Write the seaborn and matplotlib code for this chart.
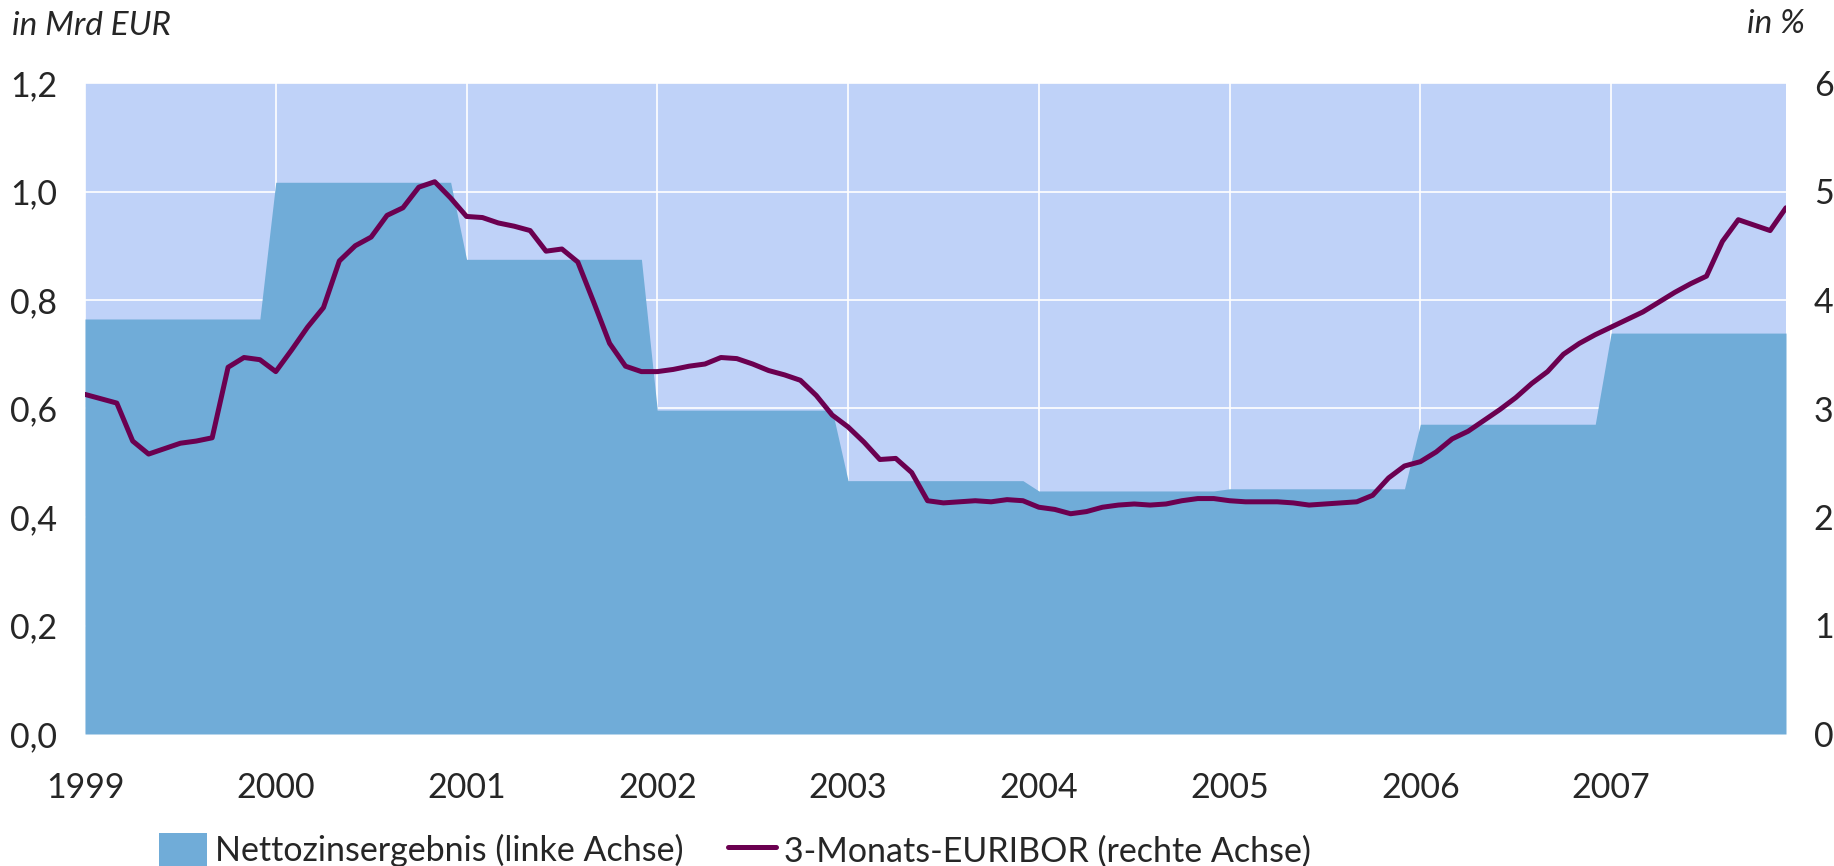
import numpy as np
import pandas as pd
import matplotlib
matplotlib.use("Agg")
import matplotlib.pyplot as plt
import seaborn as sns
from matplotlib.patches import Patch
from matplotlib.lines import Line2D
from matplotlib.ticker import FuncFormatter

# Annual net interest income (bn EUR), held constant over each year's months
years = [1999, 2000, 2001, 2002, 2003, 2004, 2005, 2006, 2007]
net_interest = [0.765, 1.017, 0.875, 0.597, 0.467, 0.448, 0.452, 0.571, 0.739]

# 3-month EURIBOR, monthly averages in % (Jan 1999 - Dec 2007)
euribor = [
    3.13, 3.09, 3.05, 2.70, 2.58, 2.63, 2.68, 2.70, 2.73, 3.38, 3.47, 3.45,
    3.34, 3.54, 3.75, 3.93, 4.36, 4.50, 4.58, 4.78, 4.85, 5.04, 5.09, 4.94,
    4.77, 4.76, 4.71, 4.68, 4.64, 4.45, 4.47, 4.35, 3.98, 3.60, 3.39, 3.34,
    3.34, 3.36, 3.39, 3.41, 3.47, 3.46, 3.41, 3.35, 3.31, 3.26, 3.12, 2.94,
    2.83, 2.69, 2.53, 2.54, 2.41, 2.15, 2.13, 2.14, 2.15, 2.14, 2.16, 2.15,
    2.09, 2.07, 2.03, 2.05, 2.09, 2.11, 2.12, 2.11, 2.12, 2.15, 2.17, 2.17,
    2.15, 2.14, 2.14, 2.14, 2.13, 2.11, 2.12, 2.13, 2.14, 2.20, 2.36, 2.47,
    2.51, 2.60, 2.72, 2.79, 2.89, 2.99, 3.10, 3.23, 3.34, 3.50, 3.60, 3.68,
    3.75, 3.82, 3.89, 3.98, 4.07, 4.15, 4.22, 4.54, 4.74, 4.69, 4.64, 4.85,
]

month = np.arange(len(euribor))
df = pd.DataFrame({
    "month": month,
    "zins": np.repeat(net_interest, 12),
    "euribor": euribor,
})

sns.set_style("white")
plt.rcParams["font.family"] = ["Lato", "DejaVu Sans"]

bg = "#BFD2F8"
area_col = "#70ACD8"
line_col = "#6B0050"

fig, ax = plt.subplots(figsize=(18.34, 8.66), dpi=100)
fig.subplots_adjust(left=85 / 1834, right=1786 / 1834, top=1 - 83 / 866, bottom=1 - 734 / 866)

ax.set_facecolor(bg)
ax.fill_between(df["month"], 0, df["zins"], color=area_col, lw=0, zorder=2)
ax.set_xlim(0, len(euribor) - 1)
ax.set_ylim(0, 1.2)
ax.set_yticks(np.arange(0, 1.21, 0.2))
ax.yaxis.set_major_formatter(FuncFormatter(lambda v, p: f"{v:.1f}".replace(".", ",")))
ax.set_xticks(np.arange(0, 108, 12))
ax.set_xticklabels([str(y) for y in years])
ax.grid(True, color="white", lw=1.2, zorder=1)
ax.set_axisbelow(True)
ax.tick_params(axis="both", length=0, labelsize=24.5)
ax.tick_params(axis="y", pad=20)
ax.tick_params(axis="x", pad=27)
for s in ax.spines.values():
    s.set_visible(False)

ax2 = ax.twinx()
sns.lineplot(data=df, x="month", y="euribor", ax=ax2, color=line_col, lw=3.6, zorder=5)
ax2.set_ylim(0, 6)
ax2.set_yticks(range(0, 7))
ax2.set_ylabel("")
ax2.set_xlabel("")
ax.set_xlabel("")
ax2.tick_params(axis="y", length=0, labelsize=24.5, pad=20)
for s in ax2.spines.values():
    s.set_visible(False)

fig.text(12 / 1834, 1 - 26 / 866, "in Mrd EUR", fontsize=24, style="italic", va="center", ha="left")
fig.text(1805 / 1834, 1 - 24 / 866, "in %", fontsize=24, style="italic", va="center", ha="right")

handles = [
    Patch(facecolor=area_col, edgecolor="none", label="Nettozinsergebnis (linke Achse)"),
    Line2D([0], [0], color=line_col, lw=3.6, label="3-Monats-EURIBOR (rechte Achse)"),
]
fig.legend(handles=handles, loc="center left", bbox_to_anchor=(159 / 1834, 1 - 850 / 866),
           ncol=2, frameon=False, fontsize=24.5, handlelength=1.4, handleheight=1.2,
           handletextpad=0.25, columnspacing=1.3, borderaxespad=0, borderpad=0)

fig.savefig("out.png", dpi=100)
